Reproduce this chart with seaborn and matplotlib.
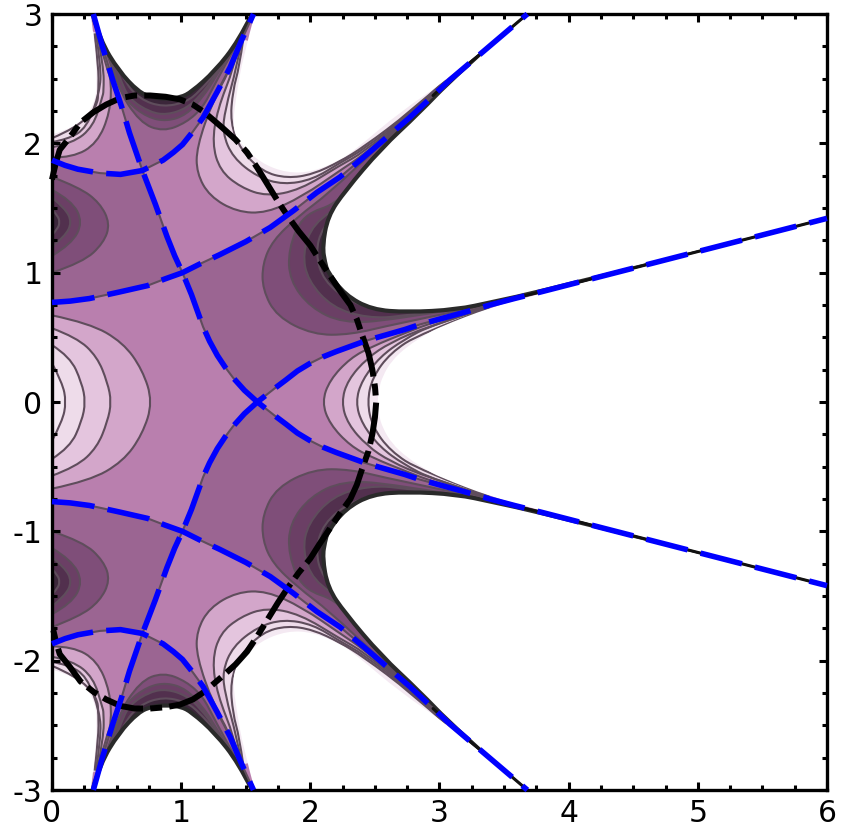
import matplotlib
matplotlib.use("Agg")
import matplotlib.pyplot as plt
from matplotlib.patches import PathPatch
from matplotlib.path import Path
import seaborn as sns

sns.set_style("ticks")
plt.rcParams['font.family'] = ['DejaVu Sans']

x_ticks = [0, 1, 2, 3, 4, 5, 6]
x_labels = ['0', '1', '2', '3', '4', '5', '6']
y_ticks = [-3, -2, -1, 0, 1, 2, 3]
y_labels = ['-3', '-2', '-1', '0', '1', '2', '3']
x_minor = [0.25 * i for i in range(25)]
y_minor = [-3 + 0.25 * i for i in range(25)]

# all curves are read for y >= 0, the lower half is the mirror image
cross_a = (1.01, 1.00)
cross_b = (0.70, 1.79)
zero_finger1 = [(0.32, 3.00), (0.39, 2.75), (0.47, 2.49), (0.54, 2.28), (0.60, 2.08), cross_b, (0.80, 1.53),
                (0.89, 1.28), (0.95, 1.13), cross_a, (1.08, 0.83), (1.17, 0.58), (1.22, 0.47), (1.28, 0.36),
                (1.34, 0.27), (1.40, 0.19), (1.49, 0.09), (1.59, 0.00)]
zero_finger4 = [(1.59, 0.00), (1.73, 0.11), (1.81, 0.17), (1.90, 0.24), (2.00, 0.30), (2.10, 0.35), (2.20, 0.39),
                (2.31, 0.43), (2.42, 0.47), (2.52, 0.50), (2.73, 0.56), (2.85, 0.60), (2.96, 0.63), (3.18, 0.69),
                (3.39, 0.75), (3.58, 0.80), (3.78, 0.85), (6.00, 1.42)]
zero_finger3 = [(0.00, 0.77), (0.14, 0.78), (0.29, 0.80), (0.52, 0.85), (0.74, 0.90), (0.87, 0.95), cross_a,
                (1.15, 1.07), (1.30, 1.14), (1.50, 1.24), (1.69, 1.35), (1.87, 1.48), (2.05, 1.62), (2.23, 1.74),
                (2.41, 1.89), (2.77, 2.20), (3.08, 2.49), (3.68, 3.00)]
zero_finger2 = [(0.00, 1.87), (0.10, 1.83), (0.20, 1.80), (0.37, 1.77), (0.53, 1.76), cross_b, (0.86, 1.87),
                (0.94, 1.93), (1.01, 1.99), (1.09, 2.09), (1.17, 2.20), (1.28, 2.40), (1.38, 2.59), (1.46, 2.78),
                (1.56, 3.00)]
circle = [(0.00, 1.72), (0.03, 1.85), (0.06, 1.95), (0.14, 2.05), (0.22, 2.16), (0.32, 2.24), (0.42, 2.30),
          (0.53, 2.35), (0.64, 2.37), (0.76, 2.37), (0.88, 2.36), (0.99, 2.34), (1.09, 2.30), (1.18, 2.24),
          (1.32, 2.12), (1.42, 2.03), (1.51, 1.93), (1.59, 1.81), (1.67, 1.68), (1.75, 1.55), (1.83, 1.43),
          (1.91, 1.32), (2.00, 1.21), (2.07, 1.10), (2.15, 0.98), (2.23, 0.86), (2.31, 0.75), (2.36, 0.64),
          (2.40, 0.52), (2.45, 0.38), (2.48, 0.25), (2.50, 0.12), (2.51, 0.00)]

edge_a = [(0.33, 3.00), (0.39, 2.80), (0.53, 2.57), (0.68, 2.41), (0.78, 2.37), (0.89, 2.36), (0.99, 2.37),
          (1.07, 2.41), (1.25, 2.57), (1.43, 2.80), (1.53, 3.00)]
edge_b = [(1.57, 3.00), (1.48, 2.67), (1.43, 2.39), (1.40, 2.16), (1.42, 2.06), (1.46, 2.00), (1.61, 1.85),
          (1.82, 1.77), (2.02, 1.78), (2.23, 1.87), (2.36, 1.96), (2.69, 2.24), (3.06, 2.49), (3.68, 3.00)]
edge_c = [(3.68, 3.00), (3.12, 2.50), (2.85, 2.22), (2.56, 1.95), (2.28, 1.62), (2.15, 1.43), (2.11, 1.20),
          (2.13, 1.08), (2.15, 1.01), (2.28, 0.84), (2.48, 0.73), (2.75, 0.71), (3.13, 0.73), (3.41, 0.79),
          (3.78, 0.87), (6.00, 1.42)]
edge_d = [(2.52, 0.00), (2.53, 0.10), (2.56, 0.20), (2.63, 0.32), (2.75, 0.43), (2.89, 0.52), (3.00, 0.58),
          (3.39, 0.73), (3.78, 0.84), (6.00, 1.42)]
edge_tl = [(0.30, 3.00), (0.33, 2.78), (0.35, 2.47), (0.33, 2.31), (0.24, 2.18), (0.09, 2.09), (0.00, 2.07)]

dark_left = [
    [(0.00, 1.74), (0.21, 1.66), (0.37, 1.54), (0.45, 1.38), (0.40, 1.23), (0.24, 1.08), (0.00, 1.00)],
    [(0.00, 1.64), (0.15, 1.56), (0.24, 1.39), (0.15, 1.22), (0.00, 1.13)],
    [(0.00, 1.58), (0.10, 1.50), (0.155, 1.39), (0.10, 1.28), (0.00, 1.20)],
    [(0.00, 1.49), (0.045, 1.44), (0.06, 1.39), (0.045, 1.34), (0.00, 1.29)],
]
dark_right = [
    [(3.05, 2.45), (2.77, 2.19), (2.50, 1.95), (2.15, 1.62), (1.90, 1.43), (1.71, 1.25), (1.63, 1.07), (1.63, 0.87),
     (1.74, 0.66), (2.02, 0.52), (2.31, 0.52), (2.64, 0.60), (3.39, 0.755)],
    [(3.05, 2.445), (2.80, 2.19), (2.50, 1.92), (2.23, 1.54), (1.94, 1.45), (1.83, 1.18), (1.84, 0.94), (2.00, 0.73),
     (2.25, 0.61), (2.62, 0.63), (3.39, 0.76)],
    [(3.05, 2.44), (2.82, 2.20), (2.52, 1.92), (2.28, 1.55), (2.02, 1.38), (1.94, 1.15), (1.98, 0.94), (2.17, 0.73),
     (2.44, 0.65), (2.72, 0.66), (3.39, 0.77)],
    [(3.05, 2.435), (2.83, 2.20), (2.53, 1.92), (2.30, 1.57), (2.09, 1.35), (2.04, 1.15), (2.10, 0.94), (2.31, 0.77),
     (2.62, 0.69), (3.39, 0.775)],
]
dark_top = [
    [(0.41, 2.75), (0.50, 2.44), (0.68, 2.16), (0.86, 2.09), (1.04, 2.16), (1.17, 2.28), (1.25, 2.44), (1.42, 2.75)],
    [(0.42, 2.75), (0.51, 2.47), (0.58, 2.32), (0.74, 2.20), (0.89, 2.17), (1.04, 2.22), (1.17, 2.36), (1.26, 2.50),
     (1.41, 2.75)],
    [(0.43, 2.75), (0.53, 2.49), (0.60, 2.34), (0.76, 2.24), (0.89, 2.22), (1.04, 2.27), (1.15, 2.37), (1.27, 2.53),
     (1.41, 2.76)],
    [(0.44, 2.75), (0.55, 2.49), (0.68, 2.34), (0.86, 2.28), (1.04, 2.32), (1.14, 2.40), (1.28, 2.56), (1.41, 2.77)],
]
light_center = [
    [(0.00, 0.67), (0.29, 0.61), (0.55, 0.46), (0.70, 0.25), (0.78, 0.00)],
    [(0.00, 0.57), (0.19, 0.50), (0.35, 0.35), (0.43, 0.15), (0.46, 0.00)],
    [(0.00, 0.44), (0.14, 0.35), (0.23, 0.15), (0.26, 0.00)],
    [(0.00, 0.30), (0.08, 0.15), (0.11, 0.00)],
]
light_right = [
    [(2.09, 0.00), (2.15, 0.17), (2.31, 0.34), (2.48, 0.43), (2.75, 0.54), (2.96, 0.62), (3.39, 0.745)],
    [(2.24, 0.00), (2.29, 0.17), (2.44, 0.34), (2.62, 0.46), (2.90, 0.58), (3.39, 0.74)],
    [(2.35, 0.00), (2.40, 0.17), (2.54, 0.35), (2.72, 0.48), (2.95, 0.60), (3.39, 0.735)],
    [(2.44, 0.00), (2.48, 0.19), (2.62, 0.38), (2.85, 0.53), (3.39, 0.73)],
]
light_bay = [
    [(1.45, 2.80), (1.39, 2.59), (1.25, 2.34), (1.12, 1.97), (1.12, 1.77), (1.22, 1.59), (1.43, 1.47), (1.66, 1.46),
     (1.94, 1.59), (2.23, 1.79), (2.41, 1.91), (2.77, 2.21), (3.05, 2.475)],
    [(1.46, 2.80), (1.41, 2.59), (1.28, 2.26), (1.24, 2.00), (1.30, 1.79), (1.46, 1.66), (1.66, 1.59), (1.92, 1.64),
     (2.23, 1.83), (2.41, 1.93), (2.77, 2.22), (3.05, 2.48)],
    [(1.47, 2.80), (1.43, 2.59), (1.34, 2.26), (1.32, 2.08), (1.40, 1.89), (1.59, 1.74), (1.79, 1.68), (2.02, 1.72),
     (2.23, 1.85), (2.41, 1.95), (2.77, 2.23), (3.05, 2.485)],
    [(1.48, 2.80), (1.45, 2.59), (1.40, 2.41), (1.38, 2.16), (1.46, 1.95), (1.63, 1.78), (1.82, 1.73), (2.02, 1.76),
     (2.23, 1.86), (2.41, 1.97), (2.77, 2.24), (3.05, 2.49)],
]
light_topleft = [
    [(0.35, 2.85), (0.42, 2.59), (0.46, 2.49), (0.45, 2.24), (0.35, 2.00), (0.16, 1.89), (0.00, 1.89)],
    [(0.35, 2.85), (0.40, 2.59), (0.40, 2.40), (0.39, 2.36), (0.32, 2.13), (0.16, 2.00), (0.00, 1.97)],
    [(0.34, 2.85), (0.38, 2.59), (0.37, 2.40), (0.27, 2.12), (0.12, 2.03), (0.00, 2.01)],
    [(0.33, 2.85), (0.36, 2.59), (0.36, 2.42), (0.35, 2.28), (0.19, 2.12), (0.00, 2.04)],
]
tail_finger3 = [(2.95, 2.37), (3.08, 2.49), (3.68, 3.00)]
tail_finger4 = [(3.39, 0.76), (3.78, 0.85), (6.00, 1.42)]

light_colors = ['#d3a6ca', '#e4c5de', '#eedcea', '#f4e9f2']
dark_colors = ['#7f4e79', '#6b3f65', '#52304e', '#3b263a']
mid_light = '#b97fae'
mid_dark = '#9b6592'
line_gray = '#5f4d5c'


def mirror(pts):
    return [(x, -y) for x, y in pts]


def apex_first(pts):
    # curve that starts on y=0: join it with its mirror image, sharing the apex
    return mirror(pts)[::-1] + pts[1:]


def apex_last(pts):
    return pts + mirror(pts)[::-1][1:]


def smooth(pts, corners=None, closed=False):
    # read points act as control points of a quadratic path, so curves do not look faceted
    verts = [pts[0]]
    codes = [Path.MOVETO]
    for i in range(1, len(pts) - 1):
        if i == len(pts) - 2:
            end = pts[-1]
        else:
            end = ((pts[i][0] + pts[i + 1][0]) / 2, (pts[i][1] + pts[i + 1][1]) / 2)
        verts += [pts[i], end]
        codes += [Path.CURVE3, Path.CURVE3]
    for c in corners or []:
        verts.append(c)
        codes.append(Path.LINETO)
    if closed:
        verts.append(pts[0])
        codes.append(Path.CLOSEPOLY)
    return Path(verts, codes)


def fill_smooth(ax, pts, color, zorder=1.1, corners=None):
    ax.add_patch(PathPatch(smooth(pts, corners, closed=True), facecolor=color, edgecolor='none', lw=0, zorder=zorder))


def stroke_smooth(ax, pts, color, lw, zorder):
    ax.add_patch(PathPatch(smooth(pts), facecolor='none', edgecolor=color, lw=lw, zorder=zorder))


def fill_poly(ax, pts, color):
    ax.fill([p[0] for p in pts], [p[1] for p in pts], color=color, lw=0, zorder=1)


def line(ax, pts, color, lw, zorder, **kws):
    sns.lineplot(x=[p[0] for p in pts], y=[p[1] for p in pts], sort=False, estimator=None, errorbar=None,
                 color=color, linewidth=lw, zorder=zorder, ax=ax, **kws)


def both(func, ax, pts, *args, **kws):
    func(ax, pts, *args, **kws)
    func(ax, mirror(pts), *args, **kws)


def both_corners(ax, pts, color, zorder, corner):
    fill_smooth(ax, pts, color, zorder, [corner])
    fill_smooth(ax, mirror(pts), color, zorder, [(corner[0], -corner[1])])


fig = plt.figure(figsize=(8.53, 8.30), dpi=100)
ax = fig.add_axes([52 / 853, 40 / 830, 775 / 853, 776 / 830])
ax.set_facecolor(mid_light)
ax.set_axisbelow(False)

# negative side of the zero contours
i_a1, i_b1 = zero_finger1.index(cross_a), zero_finger1.index(cross_b)
i_a3 = zero_finger3.index(cross_a)
i_b2 = zero_finger2.index(cross_b)
poly_left = zero_finger3[:i_a3 + 1] + zero_finger1[i_b1:i_a1 + 1][::-1] + zero_finger2[:i_b2 + 1][::-1]
poly_top = zero_finger1[:i_b1 + 1] + zero_finger2[i_b2:]
poly_right = zero_finger3[i_a3:] + zero_finger4[::-1] + zero_finger1[i_a1:][::-1]
for poly in [poly_left, poly_top, poly_right]:
    both(fill_poly, ax, poly, mid_dark)

# nested bands
for group in [dark_left, dark_right, dark_top]:
    for pts, col in zip(group, dark_colors):
        both(fill_smooth, ax, pts, col)
for pts, col in zip(light_bay, light_colors):
    both(fill_smooth, ax, pts, col)
for pts, col in zip(light_topleft, light_colors):
    both_corners(ax, pts, col, 1.1, (0.0, 3.0))
for pts, col in zip(light_center, light_colors):
    fill_smooth(ax, apex_last(pts), col)
for pts, col in zip(light_right, light_colors):
    fill_smooth(ax, apex_first(pts), col)

for group in [dark_left, dark_right, dark_top, light_bay, light_topleft]:
    for pts in group:
        both(stroke_smooth, ax, pts, line_gray, 1.5, 1.3)
for pts in light_center:
    stroke_smooth(ax, apex_last(pts), line_gray, 1.5, 1.3)
for pts in light_right:
    stroke_smooth(ax, apex_first(pts), line_gray, 1.5, 1.3)

# black rim on the dark side of the white holes
both(stroke_smooth, ax, edge_a, '#2a2a2a', 6, 1.4)
both(stroke_smooth, ax, edge_c, '#2a2a2a', 6, 1.4)

# white holes
both(fill_smooth, ax, edge_a, 'white', zorder=1.8)
both(fill_smooth, ax, edge_b, 'white', zorder=1.8)
both_corners(ax, edge_c, 'white', 1.8, (6.0, 3.0))
both_corners(ax, edge_tl, 'white', 1.8, (0.0, 3.0))
fill_smooth(ax, apex_first(edge_d), 'white', zorder=1.8)

# zero contours and the dashed overlays
long_blue = zero_finger1 + mirror(zero_finger4)[1:]
for pts in [zero_finger2, zero_finger3, long_blue]:
    both(line, ax, pts, line_gray, 1.5, 1.9)

# thin finger ends show black in the gaps of the blue dashes
both(line, ax, tail_finger3, '#111111', 2.2, 1.95)
both(line, ax, tail_finger4, '#111111', 2.2, 1.95)

line(ax, circle + mirror(circle)[::-1][1:], 'black', 4.3, 3, linestyle=(0, (7, 1.2, 2, 1.2)), clip_on=False)
for pts in [zero_finger2, zero_finger3, long_blue]:
    both(line, ax, pts, '#0000ff', 4, 3.1, linestyle=(0, (7.7, 2.4)), clip_on=False)

ax.set_xlim(0, 6)
ax.set_ylim(-3, 3)
ax.set_xticks(x_ticks)
ax.set_xticklabels(x_labels)
ax.set_yticks(y_ticks)
ax.set_yticklabels(y_labels)
ax.set_xticks(x_minor, minor=True)
ax.set_yticks(y_minor, minor=True)
ax.tick_params(which='major', direction='in', length=6, width=2.2, top=True, right=True, labelsize=21.5,
               color='black', labelcolor='black')
ax.tick_params(axis='x', which='major', pad=6.5)
ax.tick_params(axis='y', which='major', pad=7)
ax.tick_params(which='minor', direction='in', length=3.4, width=2.2, top=True, right=True, color='black')
for spine in ax.spines.values():
    spine.set_linewidth(2.4)
    spine.set_color('black')

plt.savefig("out.png", dpi=100)
plt.close()
